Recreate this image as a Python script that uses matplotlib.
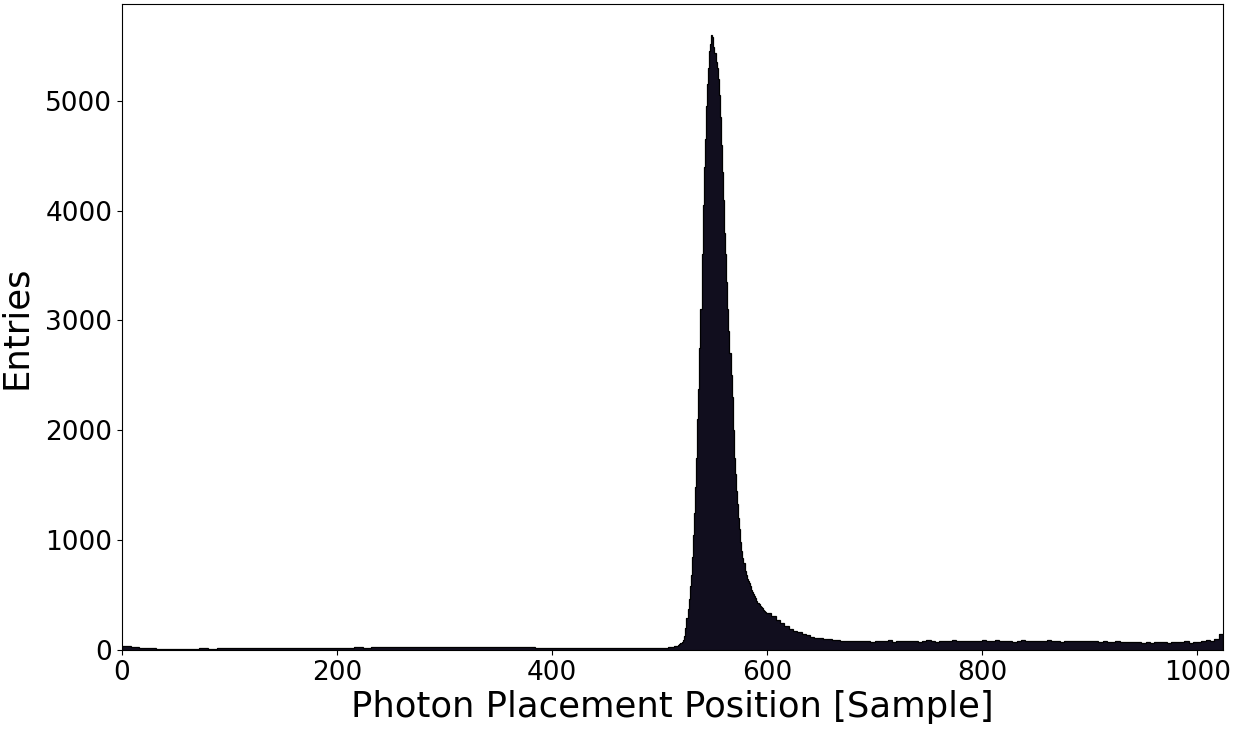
import numpy as np
import matplotlib
matplotlib.use("Agg")
import matplotlib.pyplot as plt

# counts per bin
# baseline 0-504, bins of 8 samples
baseline_counts = [40, 25, 18, 14, 12, 11, 12, 13, 12, 14, 13, 15, 14, 16, 15, 17,
                   16, 18, 17, 19, 18, 20, 19, 21, 20, 22, 21, 23, 22, 24, 23, 25,
                   24, 26, 25, 26, 27, 26, 28, 27, 26, 27, 25, 26, 24, 25, 23, 24,
                   22, 21, 22, 20, 19, 20, 18, 17, 16, 17, 15, 14, 15, 14, 16]
# peak 504-600, bins of 1 sample
peak_counts = [18, 20, 20, 22, 24, 25, 27, 28, 30, 32, 34, 37, 40, 45, 52, 60,
               68, 75, 95, 130, 200, 290, 370, 460, 580, 680, 850, 1050, 1250, 1480, 1750, 2100,
               2380, 2750, 3100, 3600, 4050, 4400, 4650, 4950, 5150, 5300, 5450, 5520, 5600, 5580, 5490, 5430,
               5350, 5300, 5200, 5050, 4850, 4600, 4350, 4100, 3800, 3600, 3350, 3100, 2900, 2700, 2500, 2300,
               2000, 1750, 1600, 1450, 1330, 1200, 1100, 980, 900, 840, 790, 720, 680, 650, 630, 610,
               580, 550, 530, 510, 490, 470, 450, 430, 420, 405, 395, 380, 365, 355, 345, 340]
# tail 600-1024, bins of 4 samples
tail_counts = [335, 310, 275, 245, 218, 192, 174, 160, 148, 132, 122, 112, 108, 100, 96, 92,
               88, 84, 86, 80,
               82, 78, 85, 80, 76, 84, 79, 82, 88, 77, 80, 83, 78, 86, 81, 75,
               84, 88, 80, 77, 85, 82, 79, 90, 84, 81, 86, 78, 83, 80, 87, 84,
               79, 88, 82, 85, 80, 77, 84, 90, 83, 79, 85, 81, 84, 88, 80, 83,
               77, 85, 82, 79, 84, 80, 78, 82, 79, 76, 80, 77, 75, 79, 74, 76,
               72, 70, 73, 68, 71, 67, 70, 69, 72, 68, 74, 70, 73, 82, 66, 75,
               70, 78, 95, 85, 100, 150]

counts = np.array(baseline_counts + peak_counts + tail_counts)
edges = np.concatenate([np.arange(0, 504, 8), np.arange(504, 600, 1),
                        np.arange(600, 1024, 4), [1024]])

fig = plt.figure(figsize=(12.42, 7.36), dpi=100)
ax = fig.add_axes([122 / 1242, 1 - 650 / 736, (1223 - 122) / 1242, (650 - 4) / 736])

ax.stairs(counts, edges, fill=True, color="#110e1e")
ax.stairs(counts, edges, color="#000000", linewidth=0.9)

ax.set_xlim(0, 1024)
ax.set_ylim(0, 5880)
ax.set_xticks([0, 200, 400, 600, 800, 1000])
ax.set_yticks([0, 1000, 2000, 3000, 4000, 5000])
ax.tick_params(labelsize=19)
ax.set_xlabel("Photon Placement Position [Sample]", fontsize=25.5, labelpad=3)
ax.set_ylabel("Entries", fontsize=25.5)
ax.yaxis.set_label_coords(-0.081, 0.5)

fig.savefig("out.png", dpi=100)
